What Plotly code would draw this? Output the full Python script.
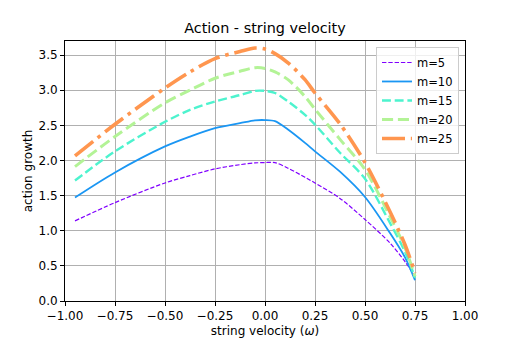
import plotly.graph_objects as go

# ---- data ----
omega = [-0.95, -0.75, -0.5, -0.375, -0.25, -0.125, -0.05, 0.0, 0.05, 0.115, 0.2, 0.25, 0.375, 0.5, 0.625, 0.7, 0.75]

m5  = [1.14, 1.40, 1.68, 1.785, 1.88, 1.94, 1.965, 1.97, 1.97, 1.89, 1.76, 1.68, 1.46, 1.16, 0.825, 0.56, 0.35]
m10 = [1.473, 1.83, 2.20, 2.34, 2.46, 2.53, 2.571, 2.575, 2.56, 2.44, 2.25, 2.13, 1.84, 1.48, 0.967, 0.62, 0.295]
m15 = [1.715, 2.13, 2.55, 2.72, 2.84, 2.93, 2.99, 2.99, 2.96, 2.84, 2.65, 2.51, 2.11, 1.74, 1.11, 0.70, 0.33]
m20 = [1.913, 2.34, 2.82, 3.00, 3.17, 3.27, 3.32, 3.31, 3.26, 3.15, 2.91, 2.73, 2.30, 1.87, 1.20, 0.76, 0.35]
m25 = [2.065, 2.515, 3.03, 3.26, 3.45, 3.55, 3.60, 3.585, 3.52, 3.39, 3.15, 2.96, 2.52, 1.97, 1.27, 0.80, 0.40]

series_names = ["m=5", "m=10", "m=15", "m=20", "m=25"]
series_values = [m5, m10, m15, m20, m25]
colors = ["#8000ff", "#1a96f3", "#4df3ce", "#b3f396", "#ff964f"]
widths = [1.2, 1.8, 2.4, 3.0, 3.6]
dashes = ["4.4px,1.9px", "solid", "8.9px,3.8px", "11.1px,4.8px", "23px,5.8px,3.6px,5.8px"]

x_ticks = [-1.0, -0.75, -0.5, -0.25, 0.0, 0.25, 0.5, 0.75, 1.0]
x_tick_text = ["\u22121.00", "\u22120.75", "\u22120.50", "\u22120.25", "0.00", "0.25", "0.50", "0.75", "1.00"]
y_ticks = [0.0, 0.5, 1.0, 1.5, 2.0, 2.5, 3.0, 3.5]
y_tick_text = ["0.0", "0.5", "1.0", "1.5", "2.0", "2.5", "3.0", "3.5"]

FONT = "DejaVu Sans"

fig = go.Figure()
for name, vals, c, w, d in zip(series_names, series_values, colors, widths, dashes):
    fig.add_trace(go.Scatter(
        x=omega, y=vals, name=name, mode="lines",
        line=dict(color=c, width=w, dash=d, shape="spline", smoothing=0.85),
    ))

axis_common = dict(
    showline=True, linecolor="black", linewidth=1, mirror=True,
    ticks="outside", ticklen=4, tickwidth=1, tickcolor="black",
    showgrid=True, gridcolor="#b0b0b0", gridwidth=1,
    zeroline=False, automargin=False,
    tickfont=dict(family=FONT, size=12, color="black"),
)

fig.update_layout(
    width=518, height=345,
    margin=dict(l=65, r=53, t=41, b=44, autoexpand=False),
    paper_bgcolor="white", plot_bgcolor="white",
    font=dict(family=FONT, size=12, color="black"),
    title=dict(text="Action - string velocity", x=0.5, xref="paper", xanchor="center",
               y=1 - 28 / 345, yref="container", yanchor="middle",
               font=dict(family=FONT, size=14.4, color="black")),
    xaxis=dict(range=[-1.0, 1.0], tickvals=x_ticks, ticktext=x_tick_text,
               title=dict(text="string velocity (<i>ω</i>)", standoff=4,
                          font=dict(family=FONT, size=12)),
               **axis_common),
    yaxis=dict(range=[0.0, 3.70], tickvals=y_ticks, ticktext=y_tick_text,
               title=dict(text="action growth", standoff=3,
                          font=dict(family=FONT, size=12)),
               **axis_common),
    legend=dict(x=0.985, y=0.977, xanchor="right", yanchor="top",
                bgcolor="rgba(255,255,255,0.8)", bordercolor="#cccccc", borderwidth=1,
                font=dict(family=FONT, size=11.5), itemwidth=30,
                tracegroupgap=0),
    showlegend=True,
)

fig.write_html("out.html", config={"displayModeBar": False},
               post_script="document.body.style.margin='0';")
